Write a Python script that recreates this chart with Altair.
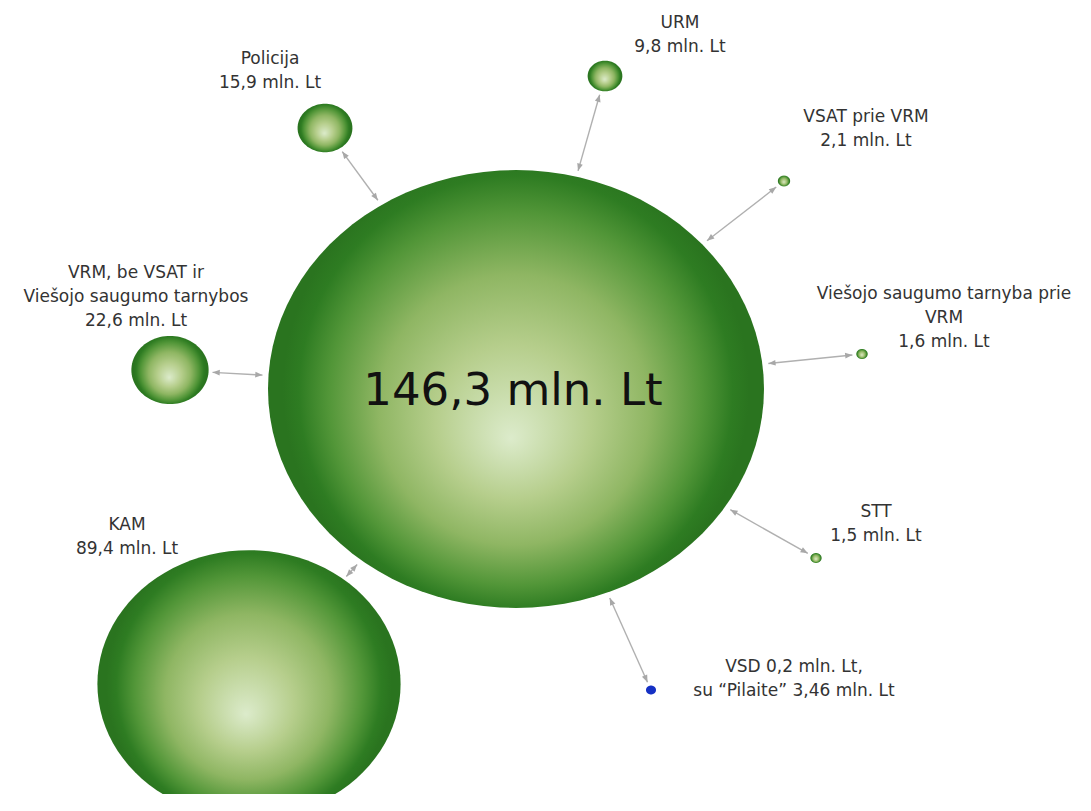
import math
import altair as alt
import pandas as pd

# ---- data ----
names = ["Centras", "Policija", "URM", "VSAT prie VRM",
         "Viešojo saugumo tarnyba prie VRM",
         "VRM, be VSAT ir Viešojo saugumo tarnybos", "KAM", "STT", "VSD"]
values = [146.3, 15.9, 9.8, 2.1, 1.6, 22.6, 89.4, 1.5, 0.2]
labels = ["146,3 mln. Lt",
          "Policija\n15,9 mln. Lt",
          "URM\n9,8 mln. Lt",
          "VSAT prie VRM\n2,1 mln. Lt",
          "Viešojo saugumo tarnyba prie\nVRM\n1,6 mln. Lt",
          "VRM, be VSAT ir\nViešojo saugumo tarnybos\n22,6 mln. Lt",
          "KAM\n89,4 mln. Lt",
          "STT\n1,5 mln. Lt",
          "VSD 0,2 mln. Lt,\nsu “Pilaite” 3,46 mln. Lt"]

# ---- layout (diagram positions, page pixels) ----
pos_x = [516, 325, 605, 784, 862, 170, 249, 816, 651]
pos_y = [389, 128, 76, 181, 354, 370, 684, 558, 690]
label_x = [513, 270, 680, 866, 944, 136, 127, 876, 794]
label_y = [405, 64, 28, 122, 299, 278, 530, 517, 672]

# ---- styling ----
W, H = 1075, 786
ASPECT = 0.883
D_MIN, D_MAX = 10.0, 496.0
VMAX = 146.3
size_range = [D_MIN ** 2, D_MAX ** 2]


def half_width(v):
    b = (size_range[1] - size_range[0]) / VMAX ** 2
    return math.sqrt(size_range[0] + b * v * v) / 2.0


def ellipse_r(rx, ux, uy):
    ry = rx * ASPECT
    return 1.0 / math.sqrt(ux * ux / (rx * rx) + uy * uy / (ry * ry))


# ellipse symbol path
pts = []
for k in range(96):
    t = 2 * math.pi * k / 96
    pts.append(f"{math.cos(t):.4f},{ASPECT * math.sin(t):.4f}")
ellipse_path = "M" + "L".join(pts) + "Z"
arrow_path = "M0,0L-2,-0.8L-2,0.8Z"

bubbles = pd.DataFrame({"name": names, "value": values, "x": pos_x, "y": pos_y,
                        "blue": [n == "VSD" for n in names]})
texts = pd.DataFrame({"label": labels, "x": label_x, "y": label_y,
                      "main": [i == 0 for i in range(len(labels))]})

# arrows between the central bubble and each satellite
cx, cy = pos_x[0], pos_y[0]
R0 = half_width(values[0])
rows, heads = [], []
for i in range(1, len(names)):
    dx, dy = pos_x[i] - cx, pos_y[i] - cy
    d = math.hypot(dx, dy)
    ux, uy = dx / d, dy / d
    rb = ellipse_r(R0, ux, uy) + 6
    rs = ellipse_r(half_width(values[i]), ux, uy) + 4
    x1, y1 = cx + ux * rb, cy + uy * rb
    x2, y2 = pos_x[i] - ux * rs, pos_y[i] - uy * rs
    rows.append({"x": x1, "y": y1, "x2": x2, "y2": y2})
    ang_out = math.degrees(math.atan2(uy, ux)) % 360
    ang_in = (ang_out + 180) % 360
    heads.append({"x": x2, "y": y2, "ang": ang_out})
    heads.append({"x": x1, "y": y1, "ang": ang_in})
arrows = pd.DataFrame(rows)
arrowheads = pd.DataFrame(heads)

xs = alt.Scale(domain=[8, 8 + W], nice=False, zero=False)
ys = alt.Scale(domain=[8 + H, 8], nice=False, zero=False)
X = lambda f="x": alt.X(f"{f}:Q", scale=xs, axis=None)
Y = lambda f="y": alt.Y(f"{f}:Q", scale=ys, axis=None)

grad = alt.RadialGradient(
    gradient="radial",
    stops=[
        alt.GradientStop(offset=0.0, color="#dcebcb"),
        alt.GradientStop(offset=0.33, color="#b6ce8c"),
        alt.GradientStop(offset=0.58, color="#8fb663"),
        alt.GradientStop(offset=0.8, color="#529638"),
        alt.GradientStop(offset=0.93, color="#2e7c22"),
        alt.GradientStop(offset=1.0, color="#2a741f"),
    ],
    x1=0.49, y1=0.6, r1=0, x2=0.5, y2=0.5, r2=0.47,
)

size_enc = alt.Size("value:Q", scale=alt.Scale(type="pow", exponent=2, domain=[0, VMAX],
                                               range=size_range), legend=None)

lines = alt.Chart(arrows).mark_rule(stroke="#b0b0b0", strokeWidth=1.4).encode(
    x=X(), y=Y(), x2="x2:Q", y2="y2:Q")

heads_layer = alt.Chart(arrowheads).mark_point(
    shape=arrow_path, filled=True, fill="#a8a8a8", opacity=1, strokeWidth=0
).encode(x=X(), y=Y(), angle=alt.Angle("ang:Q", scale=None), size=alt.value(52))

green = alt.Chart(bubbles).transform_filter("!datum.blue").mark_point(
    shape=ellipse_path, filled=True, fill=grad, opacity=1, strokeWidth=0
).encode(x=X(), y=Y(), size=size_enc)

blue = alt.Chart(bubbles).transform_filter("datum.blue").mark_point(
    shape=ellipse_path, filled=True, fill="#1530c4", opacity=1, strokeWidth=0
).encode(x=X(), y=Y(), size=size_enc)

side_text = alt.Chart(texts).transform_filter("!datum.main").mark_text(
    font="DejaVu Sans", fontSize=17, color="#333333", align="center",
    baseline="alphabetic", lineBreak="\n", lineHeight=24
).encode(x=X(), y=Y(), text="label:N")

main_text = alt.Chart(texts).transform_filter("datum.main").mark_text(
    font="DejaVu Sans", fontSize=45, color="#111111", align="center",
    baseline="alphabetic"
).encode(x=X(), y=Y(), text="label:N")

chart = alt.layer(lines, heads_layer, green, blue, side_text, main_text).properties(
    width=W, height=H, padding=0, autosize=alt.AutoSizeParams(type="none"),
    background="white"
).configure_view(stroke=None)

chart.save("out.html", embed_options={"renderer": "svg", "actions": False})
